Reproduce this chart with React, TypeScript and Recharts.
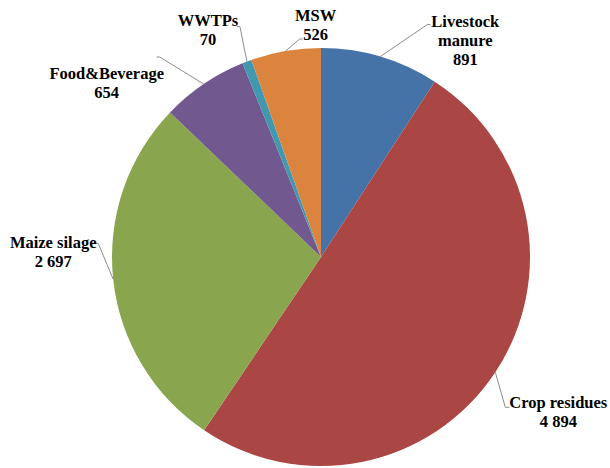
import React from 'react';
import { PieChart, Pie, Cell } from 'recharts';

const categories = ['Livestock\nmanure', 'Crop residues', 'Maize silage', 'Food&Beverage', 'WWTPs', 'MSW'];
const values = [891, 4894, 2697, 654, 70, 526];
const colors = ['#4572A7', '#AA4643', '#89A54E', '#71588F', '#4198AF', '#DB843D'];

// label layout offsets relative to the slice's outer edge point at its mid angle
const labelLayout = [
  { ex: 47, ey: -32, sx: 50, tx: 85, ty: -35 },
  { ex: 10, ey: 35, sx: 14, tx: 63, ty: 30 },
  { ex: -15, ey: -36, sx: -18, tx: -60, ty: -37 },
  { ex: -44, ey: -27, sx: -47, tx: -97, ty: -11 },
  { ex: -7, ey: -35, sx: -10, tx: -39, ty: -41 },
  { ex: 14, ey: -12, sx: 17, tx: 30, ty: -36 },
];

const data = categories.map((c, i) => ({ name: c, value: values[i] }));

const fmt = (v: number) => v.toString().replace(/\B(?=(\d{3})+(?!\d))/g, ' ');
const RAD = Math.PI / 180;
const FONT = 'Liberation Serif, Tinos, Times New Roman, DejaVu Serif';

const renderLabel = (props: any) => {
  const { cx, cy, midAngle, outerRadius, index } = props;
  const px = cx + outerRadius * Math.cos(-midAngle * RAD);
  const py = cy + outerRadius * Math.sin(-midAngle * RAD);
  const L = labelLayout[index];
  const lines = [...categories[index].split('\n'), fmt(values[index])];
  const lh = 19;
  return (
    <g style={{ fontFamily: FONT }}>
      <polyline
        points={`${px},${py} ${px + L.ex},${py + L.ey} ${px + L.sx},${py + L.ey}`}
        fill="none"
        stroke="#8c8c8c"
        strokeWidth={1}
      />
      {lines.map((t, k) => (
        <text
          key={k}
          x={px + L.tx}
          y={py + L.ty + k * lh}
          textAnchor="middle"
          dominantBaseline="central"
          fontFamily={FONT}
          style={{ fontFamily: FONT, fontWeight: 700, fontSize: 16.5, fill: '#000' }}
        >
          {t}
        </text>
      ))}
    </g>
  );
};

export default function App() {
  return (
    <div style={{ position: 'absolute', left: 0, top: 0, width: 610, height: 468, background: '#fff', fontFamily: FONT }}>
      <PieChart width={610} height={468} margin={{ top: 0, right: 0, bottom: 0, left: 0 }}>
        <Pie
          data={data}
          dataKey="value"
          nameKey="name"
          cx={321}
          cy={257}
          outerRadius={209}
          startAngle={90}
          endAngle={-270}
          stroke="none"
          label={renderLabel}
          labelLine={false}
          isAnimationActive={false}
        >
          {data.map((d, i) => (
            <Cell key={i} fill={colors[i]} />
          ))}
        </Pie>
      </PieChart>
    </div>
  );
}
